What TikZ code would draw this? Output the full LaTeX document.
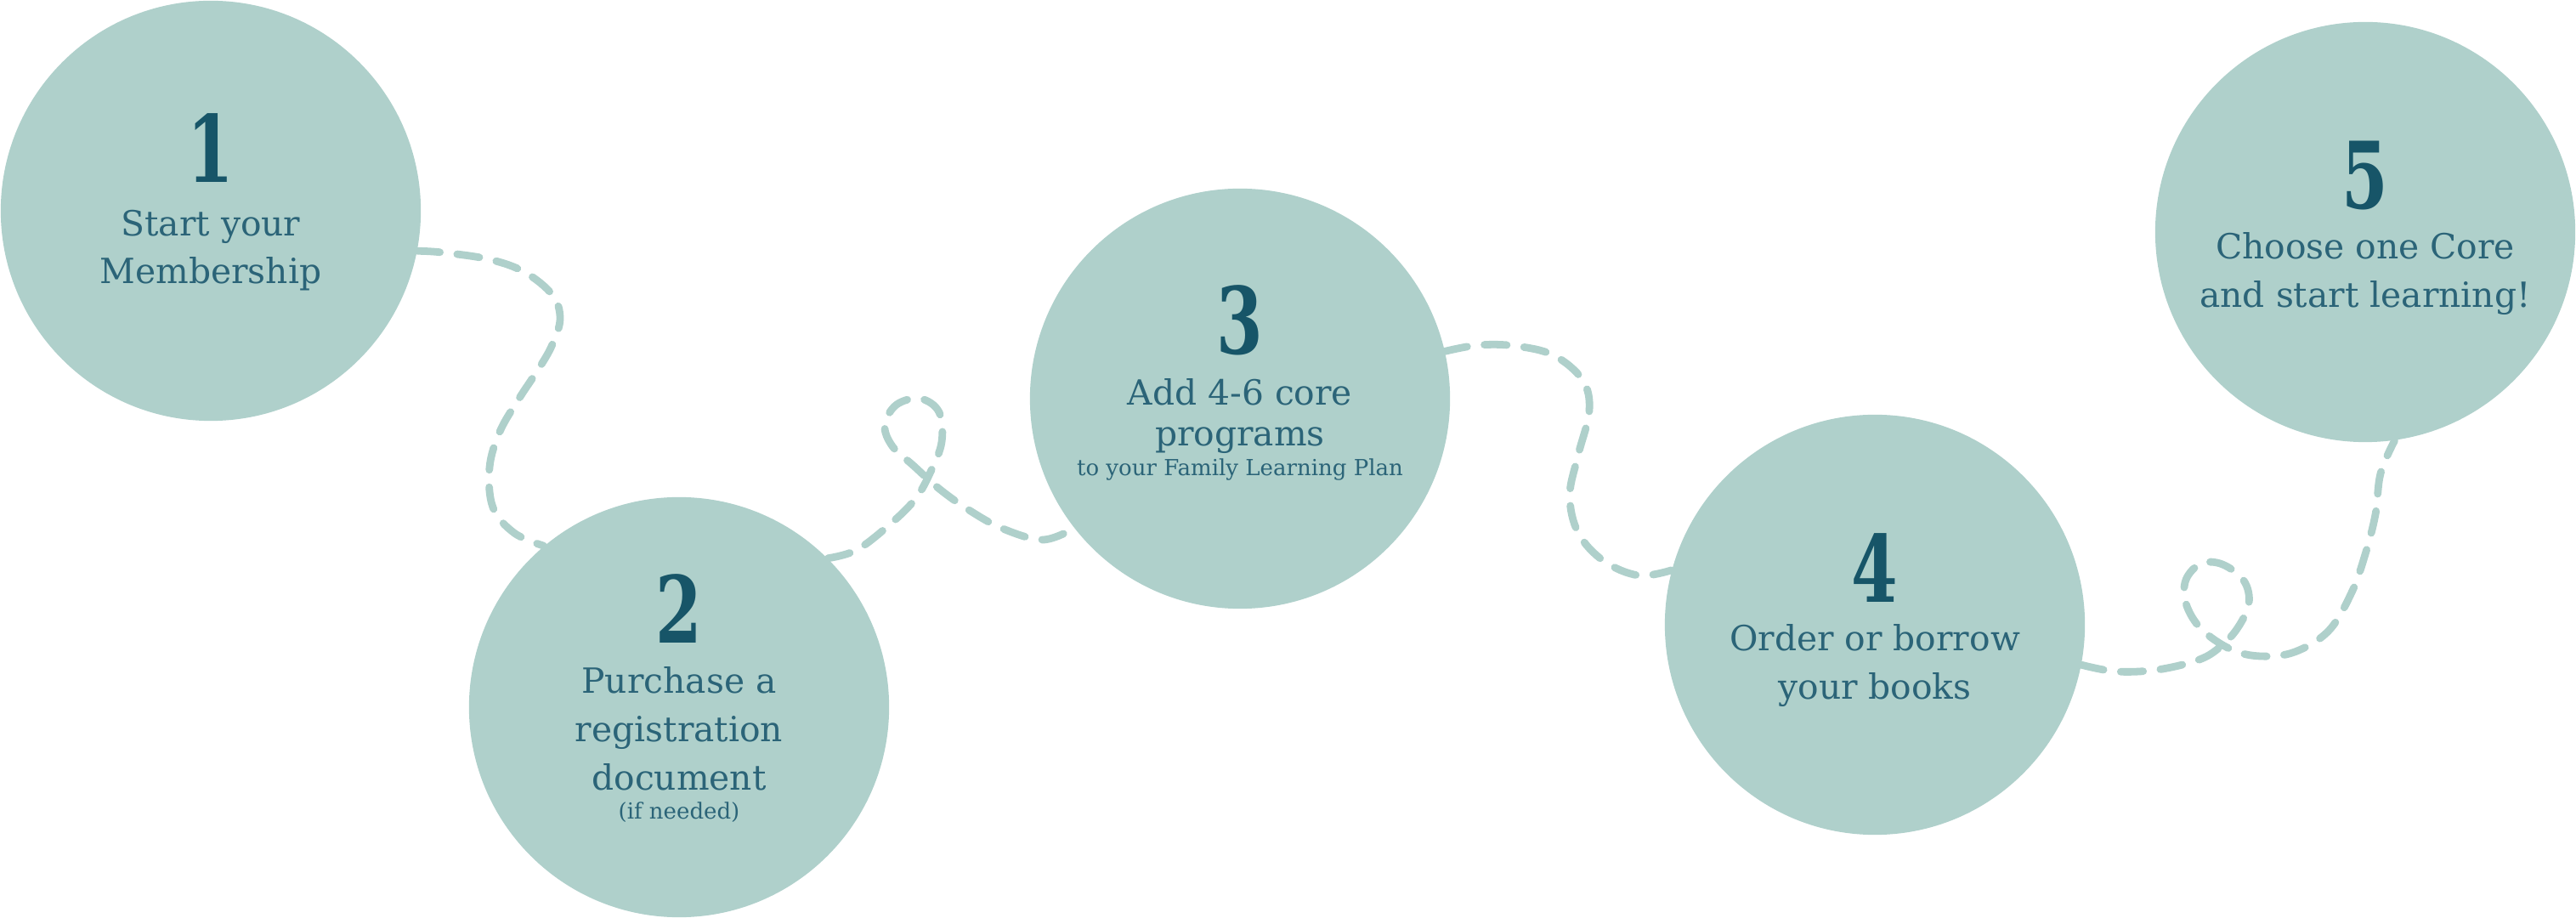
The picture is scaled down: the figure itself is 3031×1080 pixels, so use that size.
\documentclass[tikz,border=0pt]{standalone}
\usepackage{fontspec}
\usepackage{graphicx}
\setmainfont{DejaVu Serif}
\definecolor{circfill}{HTML}{AFD0CB}
\definecolor{txtcol}{HTML}{2B6478}
\definecolor{numcol}{HTML}{175568}
\tikzset{
  stepcircle/.style={circle, fill=circfill, draw=none, minimum size=#1, inner sep=0pt},
  numtxt/.style={text=numcol, anchor=base, inner sep=0pt, font=\fontsize{31}{31}\selectfont\bfseries},
  maintxt/.style={text=txtcol, anchor=base, inner sep=0pt, font=\fontsize{11.6}{14}\selectfont},
  smalltxt/.style={text=txtcol, anchor=base, inner sep=0pt, font=\fontsize{7.4}{9}\selectfont},
  trail/.style={draw=circfill, line width=2.5pt, dash pattern=on 7.5pt off 5.8pt, line cap=round}
}
\newcommand{\stepnum}[1]{\scalebox{0.72}[1]{#1}}
\begin{document}
\begin{tikzpicture}[x=0.01cm, y=-0.01cm]
\useasboundingbox (0,0) rectangle (3031,1080);
\path (248,248) coordinate (p1) (799,832) coordinate (p2) (1459,469) coordinate (p3)
      (2206,735) coordinate (p4) (2783,273) coordinate (p5);
% invisible circles used as connector ends
\node[stepcircle=4.94cm, fill=none] (c1) at (p1) {};
\node[stepcircle=4.94cm, fill=none] (c2) at (p2) {};
\node[stepcircle=4.94cm, fill=none] (c3) at (p3) {};
\node[stepcircle=4.94cm, fill=none] (c4) at (p4) {};
\node[stepcircle=4.94cm, fill=none] (c5) at (p5) {};
% dashed trails
\draw[trail] plot[smooth, tension=0.6] coordinates {(c1.-11) (520,297) (575,305) (617,320) (650,347) (659,375) (650,405) (635,432) (610,470) (588,508) (576,550) (580,597) (605,627) (c2.130)};
\draw[trail] plot[smooth, tension=0.6] coordinates {(c2.45) (1008,647) (1047,617) (1077,587) (1095,555) (1108,520) (1105,485) (1083,469) (1055,476) (1041,500) (1050,525) (1075,548) (1105,575) (1140,600) (1180,622) (1227,635) (c3.218)};
\draw[trail] plot[smooth, tension=0.6] coordinates {(c3.13) (1740,406) (1783,407) (1828,418) (1862,447) (1870,483) (1857,535) (1847,583) (1857,627) (1887,660) (1928,677) (c4.165)};
\draw[trail] plot[smooth, tension=0.6] coordinates {(c4.-11) (2490,790) (2538,788) (2585,777) (2610,763) (2632,740) (2646,710) (2640,683) (2615,664) (2590,663) (2572,682) (2572,710) (2590,740) (2625,764) (2660,772) (2700,767) (2740,742) (2767,697) (2783,652) (2795,605) (2801,557) (c5.-82)};
% filled circles on top
\node[stepcircle=4.94cm] (f1) at (p1) {};
\node[stepcircle=4.94cm] (f2) at (p2) {};
\node[stepcircle=4.94cm] (f3) at (p3) {};
\node[stepcircle=4.94cm] (f4) at (p4) {};
\node[stepcircle=4.94cm] (f5) at (p5) {};
% texts
\node[numtxt] (n1) at (248,215) {\stepnum{1}};
\node[maintxt] (t1a) at (248,278) {Start your};
\node[maintxt] (t1b) at (248,334) {Membership};
\node[numtxt] (n2) at (799,757) {\stepnum{2}};
\node[maintxt] (t2a) at (799,816) {Purchase a};
\node[maintxt] (t2b) at (799,873) {registration};
\node[maintxt] (t2c) at (799,929) {document};
\node[smalltxt] (t2d) at (799,963) {(if needed)};
\node[numtxt] (n3) at (1459,417) {\stepnum{3}};
\node[maintxt] (t3a) at (1459,477) {Add 4-6 core};
\node[maintxt] (t3b) at (1459,525) {programs};
\node[smalltxt] (t3c) at (1459,560) {to your Family Learning Plan};
\node[numtxt] (n4) at (2206,709) {\stepnum{4}};
\node[maintxt] (t4a) at (2206,766) {Order or borrow};
\node[maintxt] (t4b) at (2206,823) {your books};
\node[numtxt] (n5) at (2783,246) {\stepnum{5}};
\node[maintxt] (t5a) at (2783,305) {Choose one Core};
\node[maintxt] (t5b) at (2783,362) {and start learning!};
\end{tikzpicture}
\end{document}
